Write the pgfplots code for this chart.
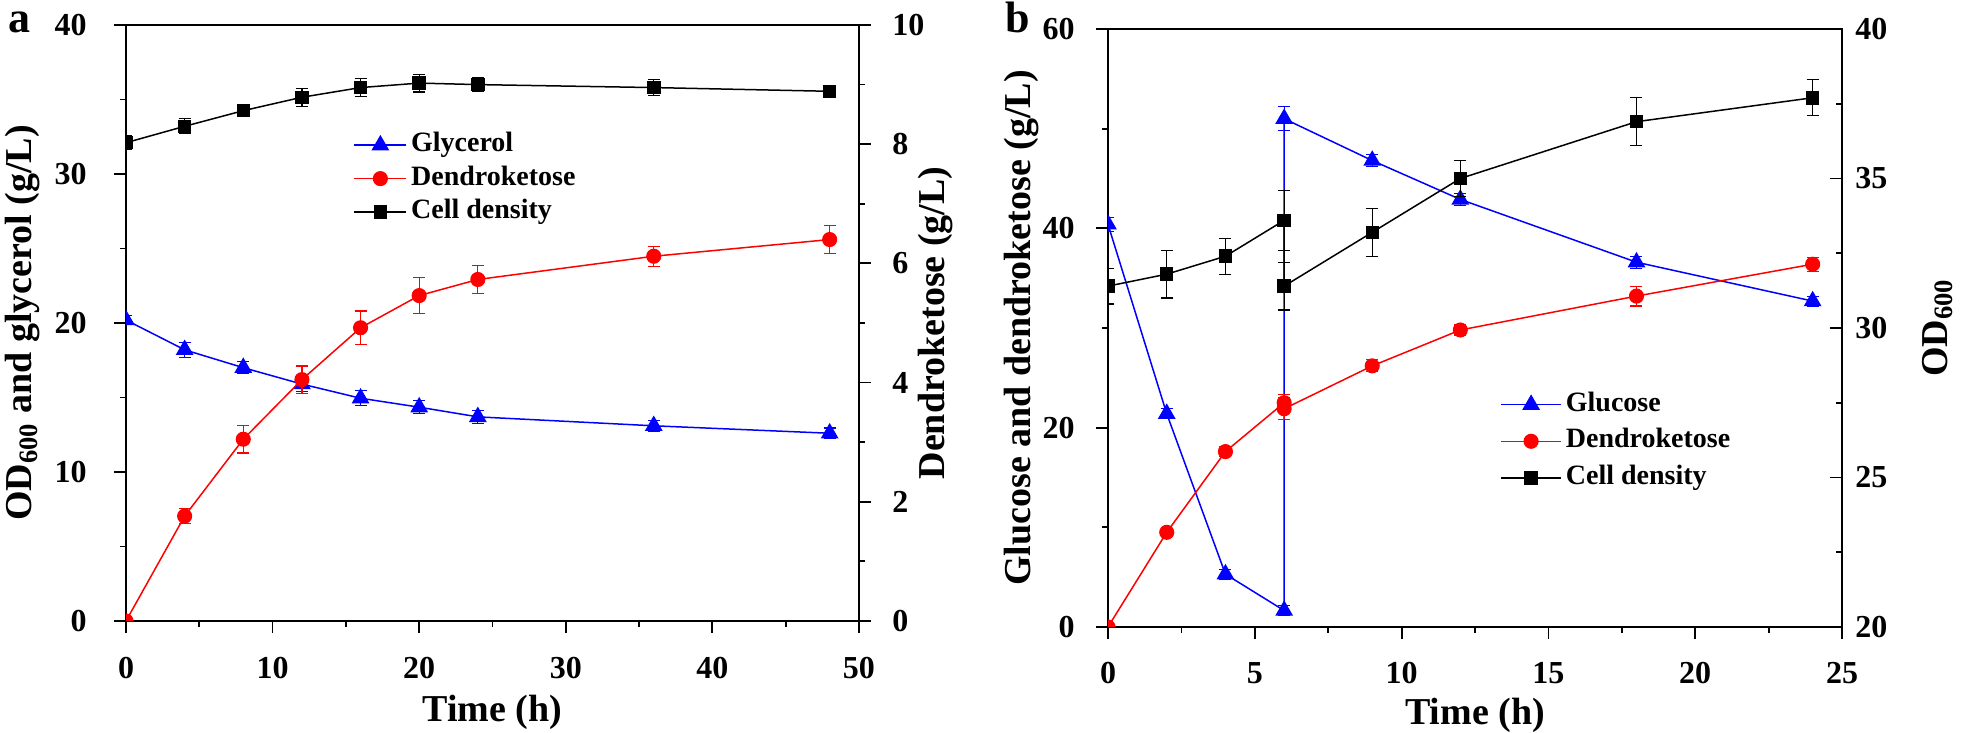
\documentclass[border=0pt]{standalone}
\usepackage{fontspec}
\setmainfont{Liberation Serif}
\usepackage{pgfplots}
\pgfplotsset{compat=1.18}
\definecolor{myblue}{RGB}{0,0,255}
\definecolor{myred}{RGB}{255,0,0}
\newcommand{\lblfont}{\fontsize{19}{19}\selectfont\bfseries}
\pgfplotsset{
  base/.style={
    scale only axis,
    axis line style={line width=0.9pt},
    every tick/.style={black, line width=0.9pt},
    major tick length=6pt, minor tick length=3pt,
    tick align=outside,
    clip marker paths=true,
    /pgf/number format/assume math mode=true,
    tick label style={font=\fontsize{16}{16}\selectfont\bfseries, inner sep=0pt},
    minor x tick num=1, minor y tick num=1,
  },
  eb/.style={error bars/.cd, y dir=both, y explicit,
    error bar style={line width=0.6pt},
    error mark options={rotate=90, mark size=3pt, line width=0.6pt}},
  pblue/.style={myblue, line width=0.75pt, mark=triangle*, mark size=4.4pt, mark options={solid}},
  pred/.style={myred, line width=0.75pt, mark=*, mark size=3.4pt, mark options={solid}},
  pblack/.style={black, line width=0.75pt, mark=square*, mark size=3pt, mark options={solid}},
}
\begin{document}
\begin{tikzpicture}
\path[use as bounding box] (0,0) rectangle (980.5pt,366.5pt);
% ---------------- Panel a ----------------
\node[anchor=base west, inner sep=0pt, font=\fontsize{22}{22}\selectfont\bfseries] at (4pt,350pt) {a};
\begin{axis}[base, at={(63pt,56pt)}, anchor=south west, width=366.5pt, height=298pt,
  xmin=0, xmax=50, ymin=0, ymax=40,
  xtick={0,10,...,50}, ytick={0,10,...,40},
  xtick pos=bottom, ytick pos=left,
  xticklabel style={anchor=north, yshift=-12pt},
  yticklabel style={anchor=east, xshift=-13.5pt},
  every axis x label/.style={at={([yshift=-50.5pt]axis description cs:0.5,0)}, anchor=base, font=\lblfont},
  every axis y label/.style={at={([xshift=-47pt]axis description cs:0,0.5)}, anchor=base, rotate=90, font=\lblfont},
  xlabel={Time (h)}, ylabel={OD\textsubscript{600} and glycerol (g/L)}]
\addplot[pblue, eb] table[row sep=\\, y error=e] {
x y e \\ 0 20.2 0.3 \\ 4 18.2 0.5 \\ 8 17.0 0.4 \\ 12 15.9 0.5 \\ 16 14.95 0.5 \\ 20 14.35 0.45 \\ 24 13.7 0.45 \\ 36 13.1 0.35 \\ 48 12.6 0.35 \\
};
\addplot[pblack, eb] table[row sep=\\, y error=e] {
x y e \\ 0 32.1 0.45 \\ 4 33.2 0.5 \\ 8 34.25 0.4 \\ 12 35.15 0.6 \\ 16 35.8 0.6 \\ 20 36.1 0.6 \\ 24 36.0 0.45 \\ 36 35.8 0.55 \\ 48 35.55 0.3 \\
};
\end{axis}
\begin{axis}[base, at={(63pt,56pt)}, anchor=south west, width=366.5pt, height=298pt,
  xmin=0, xmax=50, ymin=0, ymax=10,
  axis x line=none, axis y line*=right,
  ytick={0,2,...,10},
  yticklabel style={anchor=west, xshift=10.5pt},
  every axis y label/.style={at={([xshift=43pt]axis description cs:1,0.5)}, anchor=base, rotate=90, font=\lblfont},
  ylabel={Dendroketose (g/L)},
  legend style={draw=none, fill=none, at={(axis description cs:0.31,0.827)}, anchor=north west,
    inner sep=0pt, font=\fontsize{14}{14}\selectfont\bfseries,
    nodes={text height=10pt, text depth=3.5pt, inner ysep=1.6pt, inner xsep=2pt}},
  legend cell align=left,
  legend image code/.code={\draw[mark repeat=2,mark phase=2,#1] plot coordinates {(0pt,0pt) (13pt,0pt) (26pt,0pt)};}]
\addlegendimage{pblue}
\addlegendentry{Glycerol}
\addplot[pred, eb] table[row sep=\\, y error=e] {
x y e \\ 0 0 0 \\ 4 1.76 0.13 \\ 8 3.05 0.23 \\ 12 4.05 0.23 \\ 16 4.92 0.28 \\ 20 5.46 0.3 \\ 24 5.73 0.24 \\ 36 6.12 0.17 \\ 48 6.40 0.23 \\
};
\addlegendentry{Dendroketose}
\addlegendimage{pblack}
\addlegendentry{Cell density}
\end{axis}
% ---------------- Panel b ----------------
\node[anchor=base west, inner sep=0pt, font=\fontsize{22}{22}\selectfont\bfseries] at (502.5pt,350pt) {b};
\begin{axis}[base, at={(554pt,53pt)}, anchor=south west, width=367pt, height=299pt,
  xmin=0, xmax=25, ymin=0, ymax=60,
  xtick={0,5,...,25}, ytick={0,20,...,60},
  xtick pos=bottom, ytick pos=left,
  xticklabel style={anchor=north, yshift=-11.5pt},
  yticklabel style={anchor=east, xshift=-10.5pt},
  every axis x label/.style={at={([yshift=-49pt]axis description cs:0.5,0)}, anchor=base, font=\lblfont},
  every axis y label/.style={at={([xshift=-39pt]axis description cs:0,0.5)}, anchor=base, rotate=90, font=\lblfont},
  xlabel={Time (h)}, ylabel={Glucose and dendroketose (g/L)}]
\addplot[pblue, eb] table[row sep=\\, y error=e] {
x y e \\ 0 40.4 0.7 \\ 2 21.4 0.5 \\ 4 5.3 0.5 \\ 6 1.65 0.5 \\ 6 51.0 1.2 \\ 9 46.8 0.6 \\ 12 42.9 0.6 \\ 18 36.6 0.6 \\ 24 32.7 0.5 \\
};
\addplot[pred, eb] table[row sep=\\, y error=e] {
x y e \\ 0 0 0 \\ 2 9.5 0.4 \\ 4 17.6 0.5 \\ 6 22.5 0.8 \\ 6 21.9 1.1 \\ 9 26.2 0.6 \\ 12 29.8 0.5 \\ 18 33.2 1.0 \\ 24 36.4 0.7 \\
};
\end{axis}
\begin{axis}[base, at={(554pt,53pt)}, anchor=south west, width=367pt, height=299pt,
  xmin=0, xmax=25, ymin=20, ymax=40,
  axis x line=none, axis y line*=right,
  ytick={20,25,...,40}, tick align=inside,
  yticklabel style={anchor=west, xshift=6.5pt},
  every axis y label/.style={at={([xshift=52.5pt]axis description cs:1,0.5)}, anchor=base, rotate=90, font=\lblfont},
  ylabel={OD\textsubscript{600}},
  legend style={draw=none, fill=none, at={(axis description cs:0.534,0.403)}, anchor=north west,
    inner sep=0pt, font=\fontsize{14}{14}\selectfont\bfseries,
    nodes={text height=10pt, text depth=3.5pt, inner ysep=2.4pt, inner xsep=2pt}},
  legend cell align=left,
  legend image code/.code={\draw[mark repeat=2,mark phase=2,#1] plot coordinates {(0pt,0pt) (15pt,0pt) (30pt,0pt)};}]
\addlegendimage{pblue}
\addlegendentry{Glucose}
\addlegendimage{pred}
\addlegendentry{Dendroketose}
\addplot[pblack, eb] table[row sep=\\, y error=e] {
x y e \\ 0 31.4 0.6 \\ 2 31.8 0.8 \\ 4 32.4 0.6 \\ 6 33.6 1.0 \\ 6 31.4 0.8 \\ 9 33.2 0.8 \\ 12 35.0 0.6 \\ 18 36.9 0.8 \\ 24 37.7 0.6 \\
};
\addlegendentry{Cell density}
\end{axis}
\end{tikzpicture}
\end{document}
